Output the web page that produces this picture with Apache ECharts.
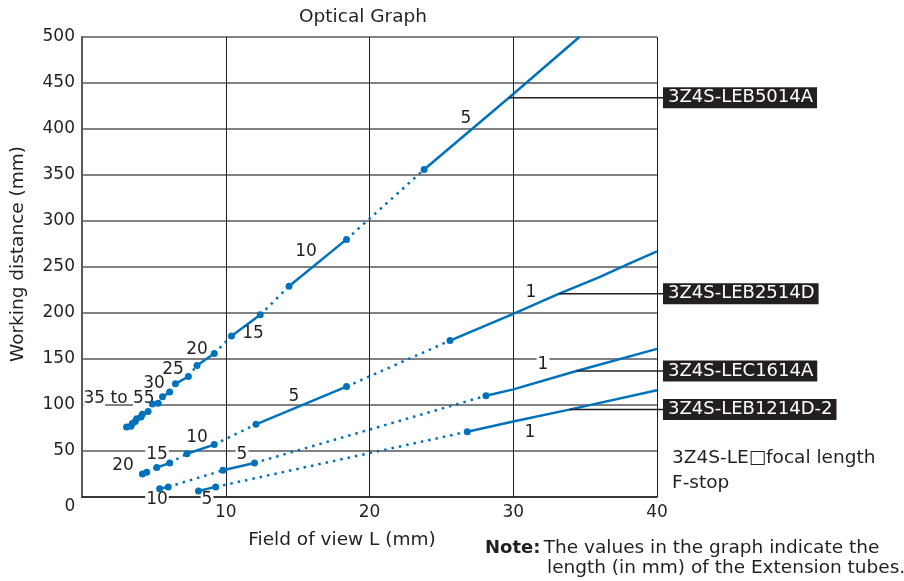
<!DOCTYPE html>
<html><head><meta charset="utf-8">
<script src="https://cdn.jsdelivr.net/npm/echarts@6/dist/echarts.min.js"></script>
<style>html,body{margin:0;padding:0;background:#fff}#c{width:904px;height:581px}</style>
</head><body><div id="c"></div>
<script>
// ---------- data ----------
const xTicks = [0, 10, 20, 30, 40];
const yTicks = [0, 50, 100, 150, 200, 250, 300, 350, 400, 450, 500];
const lensNames = ['3Z4S-LEB5014A', '3Z4S-LEB2514D', '3Z4S-LEC1614A', '3Z4S-LEB1214D-2'];

// solid segments (one per extension tube / F-stop setting), field of view [mm], working distance [mm]
const leb5014a = [
  [[3.1, 76], [3.4, 77]],
  [[3.5, 80], [3.7, 82]],
  [[3.8, 85], [4.1, 87]],
  [[4.2, 90], [4.6, 93]],
  [[4.9, 101], [5.3, 102]],
  [[5.6, 109], [6.1, 114]],
  [[6.5, 123], [7.4, 131]],
  [[8.0, 143], [9.2, 156]],
  [[10.4, 175], [12.4, 198]],
  [[14.4, 229], [18.4, 280]],
  [[23.8, 356], [29.7, 434], [34.6, 500]]
];
const leb2514d = [
  [[4.2, 25], [4.5, 27]],
  [[5.2, 32], [6.1, 37]],
  [[7.3, 47], [9.2, 57]],
  [[12.1, 79], [18.4, 120]],
  [[25.6, 170], [30, 199], [33.2, 221], [36, 239], [38.1, 254], [40, 267]]
];
const lec1614a = [
  [[5.4, 9], [6.0, 11]],
  [[9.8, 29], [12.0, 37]],
  [[28.1, 110], [30, 117], [34.4, 137], [40, 161]]
];
const leb1214d2 = [
  [[8.1, 6.5], [9.3, 11]],
  [[26.8, 71], [30, 82], [33.9, 95], [40, 116]]
];
// point on each curve where the name leader starts
const leaderAnchors = [[29.7, 434], [33.2, 221], [34.4, 137], [33.9, 95]];

// extension-tube / F-stop annotations
const annoTexts = ['35 to 55', '30', '25', '20', '15', '10', '5',
                   '20', '15', '10', '5', '1',
                   '10', '5', '1',
                   '5', '1'];

// ---------- layout / style ----------
const annoLayout = [
  [119, 399, 'split'], [154, 384], [173, 370], [197, 350], [253, 334], [306, 252], [466, 119],
  [123, 466], [157, 455, 'bg'], [197, 438], [294, 397], [531, 293],
  [157, 500, 'bg'], [242, 455, 'bg'], [543, 365, 'bg'],
  [207, 500, 'bg'], [530, 433]
];
const BLUE = '#0072bc', INK = '#231f20', GRID = '#58595b';
const FONT = 'DejaVu Sans';
const f = (s, w) => (w ? w + ' ' : '') + s + 'px "' + FONT + '"';

function seriesFor(segs) {
  const out = [];
  segs.forEach((seg, i) => {
    const last = i === segs.length - 1;
    const data = seg.map((p, j) => {
      const endpoint = j === 0 || (j === seg.length - 1 && !last);
      return { value: p, symbol: endpoint ? 'circle' : 'none', symbolSize: 7 };
    });
    out.push({
      type: 'line', data, showSymbol: true, showAllSymbol: true,
      lineStyle: { color: BLUE, width: 2.5 }, itemStyle: { color: BLUE },
      silent: true, animation: false, z: 3
    });
    if (!last) {
      out.push({
        type: 'line', data: [seg[seg.length - 1], segs[i + 1][0]], symbol: 'none',
        lineStyle: { color: BLUE, width: 2.5, type: [2.5, 5], cap: 'butt' },
        silent: true, animation: false, z: 3
      });
    }
  });
  return out;
}

const chart = echarts.init(document.getElementById('c'));
const option = {
  animation: false,
  backgroundColor: '#fff',
  textStyle: { fontFamily: FONT },
  grid: { left: 82, top: 37, right: 247, bottom: 84, containLabel: false, outerBoundsMode: 'none' },
  xAxis: {
    type: 'value', min: xTicks[0], max: xTicks[xTicks.length - 1], interval: 10,
    axisLine: { show: true, lineStyle: { color: INK, width: 1.5 } },
    axisTick: { show: false },
    axisLabel: { fontSize: 17, color: INK, margin: 7, fontFamily: FONT,
      formatter: v => (v === 0 ? '' : String(v)) },
    splitLine: { show: true, lineStyle: { color: INK, width: 1 } }
  },
  yAxis: {
    type: 'value', min: yTicks[0], max: yTicks[yTicks.length - 1], interval: 50,
    axisLine: { show: true, lineStyle: { color: GRID, width: 2 } },
    axisTick: { show: false },
    axisLabel: { fontSize: 17, color: INK, margin: 7, fontFamily: FONT,
      formatter: v => (v === 0 ? '' : String(v)) },
    splitLine: { show: true, lineStyle: { color: GRID, width: 1.5 } }
  },
  series: [].concat(seriesFor(leb5014a), seriesFor(leb2514d), seriesFor(lec1614a), seriesFor(leb1214d2))
};
chart.setOption(option);

const g = [];
function txt(x, y, text, extra) {
  g.push(Object.assign({
    type: 'text', x, y, z: 1, silent: true,
    style: Object.assign({ text, fill: INK, font: f(17), align: 'center', verticalAlign: 'middle' }, extra || {})
  }));
}
// title and axis names
txt(363, 17, 'Optical Graph', { font: f(18.5) });
txt(342, 540, 'Field of view L (mm)', { font: f(18.5) });
g.push({ type: 'text', x: 18, y: 254, rotation: Math.PI / 2, z: 1, silent: true,
  style: { text: 'Working distance (mm)', fill: INK, font: f(18.5), align: 'center', verticalAlign: 'middle' } });
txt(70, 507, String(yTicks[0]));

// annotations
annoTexts.forEach((t, i) => {
  const L = annoLayout[i];
  if (L[2] === 'split') {
    const parts = t.split(' ');
    g.push({ type: 'text', x: L[0], y: L[1], z: 1, silent: true,
      style: {
        text: '{w|' + parts[0] + '}{n| ' + parts[1] + ' }{w|' + parts[2] + '}',
        align: 'center', verticalAlign: 'middle',
        rich: {
          w: { fill: INK, font: f(17), backgroundColor: '#fff' },
          n: { fill: INK, font: f(17) }
        }
      } });
  } else {
    txt(L[0], L[1], t, L[2] === 'bg' ? { backgroundColor: '#fff', padding: [0, 1] } : {});
  }
});

// lens names with leader lines
lensNames.forEach((name, i) => {
  const p = chart.convertToPixel({ gridIndex: 0 }, leaderAnchors[i]);
  g.push({ type: 'line', z: 4, silent: true, shape: { x1: p[0], y1: p[1], x2: 663, y2: p[1] },
    style: { stroke: INK, lineWidth: 1.5 } });
  g.push({ type: 'text', x: 663, y: p[1], z: 4, silent: true,
    style: { text: name, fill: '#fff', font: f(18), align: 'left', verticalAlign: 'middle',
      backgroundColor: INK, padding: [0, 4, 0, 5], lineHeight: 21 } });
});

// key and note
txt(672, 458, '3Z4S-LE\u25A1focal length', { align: 'left', font: f(18.5) });
txt(672, 483, 'F-stop', { align: 'left', font: f(18.5) });
g.push({ type: 'text', x: 485, y: 548, z: 1, silent: true,
  style: { text: '{b|Note:} {n|The values in the graph indicate the}', align: 'left', verticalAlign: 'middle',
    rich: { b: { fill: INK, font: f(18, 'bold') }, n: { fill: INK, font: f(18.5) } } } });
txt(547, 568, 'length (in mm) of the Extension tubes.', { align: 'left', font: f(18.5) });

chart.setOption({ graphic: g });
</script>
</body></html>
